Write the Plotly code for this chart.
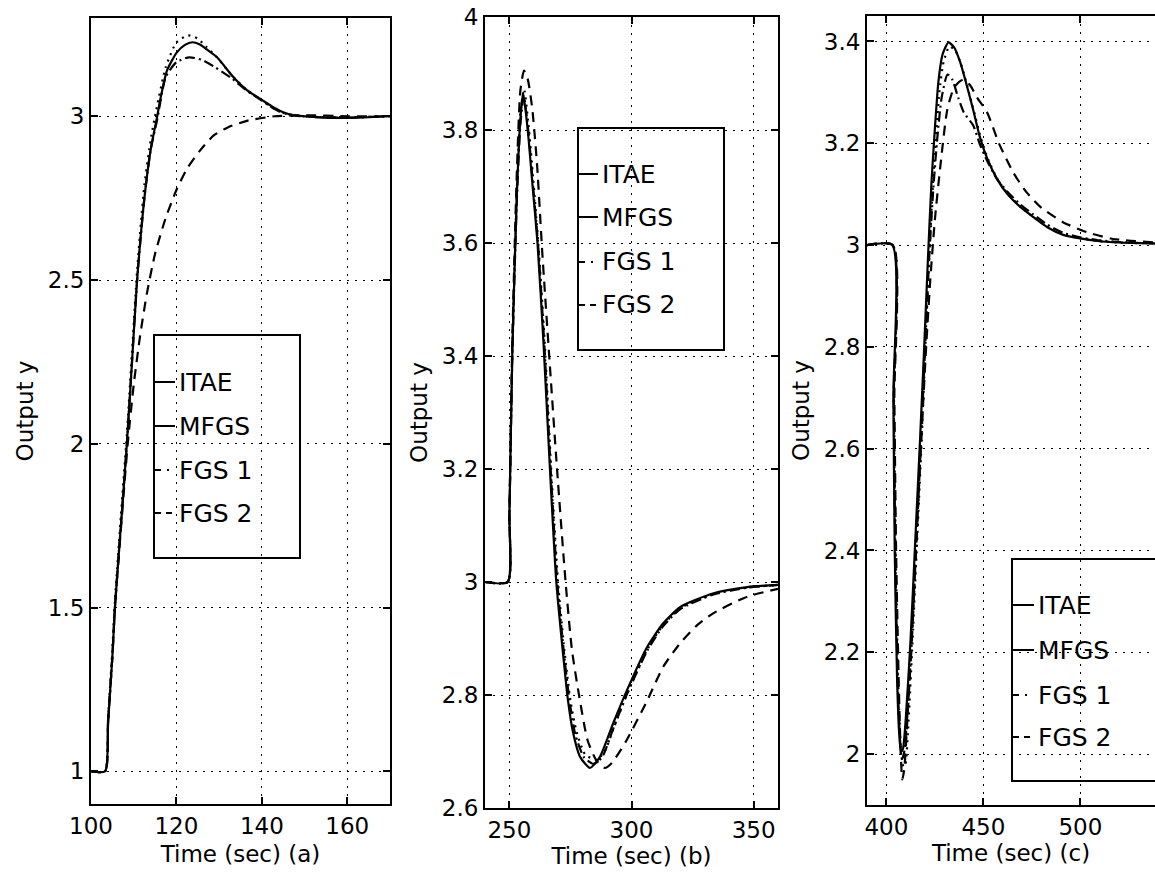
import plotly.graph_objects as go

W, H = 1155, 875
FONT = "DejaVu Sans"

# ---------------- data ----------------
# Panel (a)
ta_itae = [100, 103.3, 104, 105, 105.6, 107, 108.4, 109.6, 110.8, 112.5, 114, 115.5, 116.2, 117.8,
           120.1, 122, 123.7, 125.5, 127.1, 129.5, 133.3, 136.5, 140, 143, 145, 147.5, 152, 156, 160, 165, 170]
ya_itae = [1, 1, 1.15, 1.35, 1.5, 1.75, 2.0, 2.25, 2.5, 2.75, 2.9, 3.0, 3.05, 3.14,
           3.195, 3.218, 3.226, 3.219, 3.204, 3.18, 3.12, 3.08, 3.05, 3.025, 3.012, 3.003, 2.998, 2.995, 2.995, 2.997, 3.0]

ta_mfgs = [100, 103.3, 104, 105, 105.6, 107, 108.4, 109.6, 110.8, 112.5, 114, 115.5, 117.5, 120, 123, 126,
           129, 133, 136.5, 140, 143, 145, 148, 152, 160, 165, 170]
ya_mfgs = [1, 1, 1.15, 1.35, 1.5, 1.75, 2.0, 2.25, 2.5, 2.75, 2.9, 2.99, 3.12, 3.165, 3.18, 3.172,
           3.15, 3.115, 3.078, 3.048, 3.022, 3.01, 3.002, 2.998, 2.996, 2.998, 3.0]

ta_fgs1 = [100, 103.3, 104, 105, 105.6, 107, 108.4, 109.6, 110.8, 112.5, 114, 115.3, 117.5, 120, 122.7, 125,
           127, 129.5, 133.3, 136.5, 140, 143, 145, 147.5, 152, 160, 165, 170]
ya_fgs1 = [1, 1, 1.16, 1.37, 1.52, 1.78, 2.03, 2.28, 2.53, 2.79, 2.93, 3.02, 3.15, 3.225, 3.247, 3.237,
           3.212, 3.18, 3.12, 3.08, 3.048, 3.022, 3.01, 3.002, 2.998, 2.996, 2.998, 3.0]

ta_fgs2 = [100, 103.3, 104, 105, 105.6, 107, 108.6, 110, 111.5, 113.1, 115, 117.5, 120, 122.5, 125.5,
           128.6, 132, 136.5, 143, 150, 160, 170]
ya_fgs2 = [1, 1, 1.15, 1.35, 1.5, 1.74, 2.0, 2.18, 2.33, 2.46, 2.58, 2.69, 2.775, 2.84, 2.895,
           2.94, 2.966, 2.986, 3.0, 3.003, 3.0, 3.0]

# Panel (b)
tb_itae = [240, 249.3, 250, 251.2, 253, 254.5, 255.6, 257.5, 259.5, 261.5, 264, 266.6, 269.2, 271.8, 274,
           276, 279, 283, 287, 292.5, 298.2, 306.4, 313, 320, 333.6, 347.4, 360]
yb_itae = [3, 3, 3.12, 3.41, 3.68, 3.82, 3.866, 3.8, 3.7, 3.6, 3.42, 3.2, 3.0, 2.88, 2.79,
           2.735, 2.69, 2.671, 2.69, 2.75, 2.809, 2.885, 2.927, 2.956, 2.98, 2.991, 2.995]

tb_mfgs = [240, 249.3, 250, 251.2, 253, 254.5, 255.9, 257.7, 259.7, 261.7, 264.3, 266.9, 269.6, 272.2, 274.6,
           277, 280.5, 284.5, 288, 292.5, 298, 306.4, 313, 320, 333.6, 347.4, 360]
yb_mfgs = [3, 3, 3.12, 3.4, 3.67, 3.81, 3.86, 3.8, 3.7, 3.6, 3.42, 3.2, 3.0, 2.88, 2.79,
           2.73, 2.69, 2.678, 2.69, 2.74, 2.8, 2.878, 2.922, 2.952, 2.978, 2.99, 2.995]

tb_fgs1 = [240, 249.3, 250, 251.2, 253, 254.5, 256, 257.8, 259.8, 261.8, 264.5, 267.1, 269.9, 272.5, 275,
           277.5, 281, 285.5, 289, 293, 298.5, 306.4, 313, 320, 333.6, 347.4, 360]
yb_fgs1 = [3, 3, 3.12, 3.41, 3.69, 3.83, 3.872, 3.81, 3.71, 3.6, 3.42, 3.2, 3.0, 2.88, 2.79,
           2.735, 2.695, 2.685, 2.7, 2.745, 2.805, 2.88, 2.924, 2.954, 2.979, 2.99, 2.995]

tb_fgs2 = [240, 249.3, 250, 251.2, 253, 254.5, 256, 257.5, 259.3, 261.3, 263.5, 266.3, 269.5, 273, 275.6,
           278.5, 282, 285.5, 289, 292, 298, 306.4, 313, 320, 327, 333.6, 347.4, 360]
yb_fgs2 = [3, 3, 3.12, 3.43, 3.72, 3.87, 3.905, 3.89, 3.84, 3.74, 3.58, 3.4, 3.2, 3.0, 2.88,
           2.8, 2.72, 2.685, 2.671, 2.68, 2.72, 2.79, 2.85, 2.892, 2.924, 2.945, 2.974, 2.988]

# Panel (c)
tc_itae = [390, 403, 403.6, 404.3, 405.5, 406.6, 407.5, 408.5, 410, 412.4, 414.9, 417.5, 419.5, 421.5, 423.2,
           424.5, 426.8, 429, 432, 435, 438, 441, 444.8, 448, 452, 457, 462.4, 469, 475.8, 483, 491.2,
           500, 508.8, 520, 539]
yc_itae = [3, 3, 2.7, 2.4, 2.15, 2.04, 2.005, 2.01, 2.07, 2.22, 2.42, 2.63, 2.8, 2.98, 3.12,
           3.2, 3.32, 3.375, 3.398, 3.388, 3.36, 3.32, 3.265, 3.215, 3.17, 3.13, 3.10, 3.075, 3.055, 3.035, 3.02,
           3.013, 3.008, 3.005, 3.003]

tc_mfgs = [390, 403.2, 403.8, 404.6, 405.8, 407, 408, 409, 410.5, 412.8, 415.3, 417.9, 420, 422, 424,
           426, 428.5, 431.5, 434, 437, 440, 444.8, 448, 452, 457, 462.4, 469, 475.8, 483, 491.2,
           500, 508.8, 520, 539]
yc_mfgs = [3, 3, 2.7, 2.4, 2.15, 2.03, 1.99, 2.0, 2.06, 2.2, 2.4, 2.62, 2.8, 2.97, 3.1,
           3.2, 3.29, 3.335, 3.325, 3.29, 3.26, 3.235, 3.2, 3.165, 3.13, 3.105, 3.08, 3.06, 3.04, 3.024,
           3.015, 3.01, 3.006, 3.003]

tc_fgs1 = [390, 403.2, 403.9, 404.8, 406, 407.5, 408.8, 409.8, 411.2, 413.2, 415.6, 418.1, 420, 422, 423.7,
           425, 427.3, 429.5, 432.5, 435.5, 438.5, 441.5, 445.2, 448.5, 452.5, 457.5, 463, 469.5, 476.3,
           483.5, 491.7, 500, 509, 520, 539]
yc_fgs1 = [3, 3, 2.7, 2.4, 2.15, 2.01, 1.975, 1.98, 2.05, 2.2, 2.4, 2.61, 2.79, 2.97, 3.1,
           3.18, 3.3, 3.36, 3.39, 3.382, 3.355, 3.315, 3.262, 3.213, 3.168, 3.128, 3.099, 3.074, 3.054,
           3.035, 3.021, 3.013, 3.008, 3.005, 3.003]

tc_fgs2 = [390, 403.4, 404.1, 405, 406.3, 407.4, 408.2, 409.2, 410.7, 413, 415.5, 418, 420.5, 422.6, 425,
           427.8, 431.4, 435, 439.5, 443, 446.7, 452, 458, 465.5, 472, 479.4, 491, 503.6, 517, 539]
yc_fgs2 = [3, 3, 2.7, 2.4, 2.15, 2.0, 1.95, 1.97, 2.06, 2.22, 2.42, 2.62, 2.8, 2.93, 3.05,
           3.154, 3.266, 3.31, 3.325, 3.315, 3.29, 3.26, 3.2, 3.142, 3.105, 3.075, 3.045, 3.025, 3.012, 3.005]

series_names = ["ITAE", "MFGS", "FGS 1", "FGS 2"]

xa_ticks = [100, 120, 140, 160]
ya_ticks = [1, 1.5, 2, 2.5, 3]
ya_ticktext = ["1", "1.5", "2", "2.5", "3"]
xb_ticks = [250, 300, 350]
yb_ticks = [2.6, 2.8, 3, 3.2, 3.4, 3.6, 3.8, 4]
yb_ticktext = ["2.6", "2.8", "3", "3.2", "3.4", "3.6", "3.8", "4"]
xc_ticks = [400, 450, 500]
yc_ticks = [2, 2.2, 2.4, 2.6, 2.8, 3, 3.2, 3.4]
yc_ticktext = ["2", "2.2", "2.4", "2.6", "2.8", "3", "3.2", "3.4"]

x_titles = ["Time (sec) (a)", "Time (sec) (b)", "Time (sec) (c)"]
y_title = "Output y"

# ---------------- styles ----------------
DASH = {"ITAE": "solid", "MFGS": "10px,4px,2px,4px", "FGS 1": "2px,5px", "FGS 2": "10px,7px"}


def px_x(p):
    return p / W


def px_y(p):
    return 1 - p / H


fig = go.Figure()

panels = [
    ("x", "y", [(ta_itae, ya_itae), (ta_mfgs, ya_mfgs), (ta_fgs1, ya_fgs1), (ta_fgs2, ya_fgs2)]),
    ("x2", "y2", [(tb_itae, yb_itae), (tb_mfgs, yb_mfgs), (tb_fgs1, yb_fgs1), (tb_fgs2, yb_fgs2)]),
    ("x3", "y3", [(tc_itae, yc_itae), (tc_mfgs, yc_mfgs), (tc_fgs1, yc_fgs1), (tc_fgs2, yc_fgs2)]),
]
for xa, yaxis, data in panels:
    for name, (xs, ys) in zip(series_names, data):
        fig.add_trace(go.Scatter(
            x=xs, y=ys, mode="lines", name=name, showlegend=False,
            xaxis=xa, yaxis=yaxis,
            line=dict(color="black", width=2.2, dash=DASH[name], shape="spline", smoothing=0.6),
        ))

tickfont = dict(family=FONT, size=23, color="black")
titlefont = dict(family=FONT, size=23, color="black")


def axis(**kw):
    base = dict(showline=True, linecolor="black", linewidth=2, mirror="ticks",
                ticks="inside", ticklen=7, tickwidth=1.5, tickcolor="black",
                showgrid=True, gridcolor="black", gridwidth=1.2, griddash="2px,6px",
                zeroline=False, tickfont=tickfont, automargin=False)
    base.update(kw)
    return base


# plot-area pixel boxes (left, top, right, bottom)
boxes = [(91, 18, 390, 804), (485, 17, 778, 808), (867, 16, 1155, 805)]

fig.update_layout(
    width=W, height=H, margin=dict(l=0, r=0, t=0, b=0),
    paper_bgcolor="white", plot_bgcolor="white", showlegend=False,
    xaxis=axis(domain=[px_x(boxes[0][0]), px_x(boxes[0][2])], range=[100, 170], anchor="y",
               tickvals=xa_ticks, title=dict(text=x_titles[0], font=titlefont, standoff=8)),
    yaxis=axis(domain=[px_y(boxes[0][3]), px_y(boxes[0][1])], range=[0.9, 3.3], anchor="x",
               tickvals=ya_ticks, ticktext=ya_ticktext, title=dict(text=y_title, font=titlefont, standoff=8)),
    xaxis2=axis(domain=[px_x(boxes[1][0]), px_x(boxes[1][2])], range=[240, 360], anchor="y2",
                tickvals=xb_ticks, title=dict(text=x_titles[1], font=titlefont, standoff=6)),
    yaxis2=axis(domain=[px_y(boxes[1][3]), px_y(boxes[1][1])], range=[2.6, 4.0], anchor="x2",
                tickvals=yb_ticks, ticktext=yb_ticktext, title=dict(text=y_title, font=titlefont, standoff=8)),
    xaxis3=axis(domain=[px_x(boxes[2][0]), px_x(boxes[2][2])], range=[390, 538.5], anchor="y3",
                tickvals=xc_ticks, title=dict(text=x_titles[2], font=titlefont, standoff=6)),
    yaxis3=axis(domain=[px_y(boxes[2][3]), px_y(boxes[2][1])], range=[1.9, 3.45], anchor="x3",
                mirror=False, tickvals=yc_ticks, ticktext=yc_ticktext,
                title=dict(text=y_title, font=titlefont, standoff=8)),
)

# ---------------- legends (boxes drawn per panel) ----------------
legends = [
    dict(box=(154, 335, 300, 558), text_x=177, rows=[382, 426, 470, 513]),
    dict(box=(578, 128, 724, 350), text_x=600, rows=[174, 217, 262, 305]),
    dict(box=(1012, 559, 1175, 781), text_x=1036, rows=[605, 650, 695, 737]),
]
STUB = {"ITAE": "solid", "MFGS": "solid", "FGS 1": "6px,6px,2px,20px", "FGS 2": "6px,5px"}
shapes = []
annotations = []
for lg in legends:
    l, t, r, b = lg["box"]
    shapes.append(dict(type="rect", xref="paper", yref="paper",
                       x0=px_x(l), x1=px_x(r), y0=px_y(b), y1=px_y(t),
                       line=dict(color="black", width=2), fillcolor="rgba(0,0,0,0)", layer="above"))
    for name, ry in zip(series_names, lg["rows"]):
        shapes.append(dict(type="line", xref="paper", yref="paper",
                           x0=px_x(l + 1), x1=px_x(lg["text_x"] - 2), y0=px_y(ry), y1=px_y(ry),
                           line=dict(color="black", width=2, dash=STUB[name]), layer="above"))
        annotations.append(dict(text=name, xref="paper", yref="paper", x=px_x(lg["text_x"]), y=px_y(ry),
                                xanchor="left", yanchor="middle", showarrow=False,
                                font=dict(family=FONT, size=25, color="black")))

fig.update_layout(shapes=shapes, annotations=annotations)

fig.write_html("out.html")
